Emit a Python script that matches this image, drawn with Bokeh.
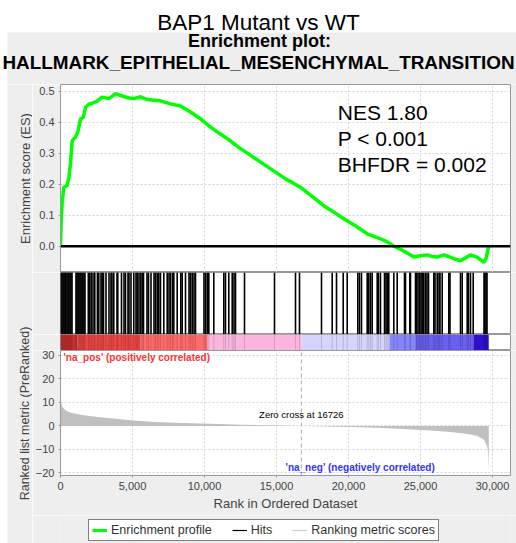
import math
from bokeh.plotting import figure
from bokeh.layouts import column, row
from bokeh.models import (Range1d, SingleIntervalTicker, NumeralTickFormatter,
                          PrintfTickFormatter, Legend, LegendItem)
from bokeh.core.properties import value
from bokeh.embed import file_html
from bokeh.resources import INLINE

FONT = "Liberation Sans"
PANEL = "#eeeeee"
OUTLINE = "#999999"
TXT = "#444444"
STRIP = 32  # width of the left strip that carries the axis titles

# ---------------- data ----------------
title_text = "BAP1 Mutant vs WT"
subtitle_1 = "Enrichment plot:"
subtitle_2 = "HALLMARK_EPITHELIAL_MESENCHYMAL_TRANSITION"
es_axis_label = "Enrichment score (ES)"
metric_axis_label = "Ranked list metric (PreRanked)"
rank_axis_label = "Rank in Ordered Dataset"
stats_lines = ["NES 1.80", "P < 0.001", "BHFDR = 0.002"]
stats_y = [0.431, 0.347, 0.265]
zero_cross = 16726
n_genes = 29740

es_rank = [0, 40, 115, 230, 460, 580, 694, 810, 1040, 1200, 1390, 1575, 1740, 1970,
           2250, 2550, 2890, 3355, 3600, 3820, 4100, 4400, 4750, 5090, 5560, 6020,
           6500, 6940, 7640, 8330, 9030, 9720, 10400, 11000, 11700, 12400, 13200,
           14000, 14800, 15600, 16667, 17500, 18300, 18980, 19700, 20500, 21300,
           22220, 22700, 23150, 23700, 24200, 24540, 25000, 25460, 25800, 26160,
           26620, 27000, 27310, 27780, 28100, 28470, 28940, 29400, 29550, 29740]
es_score = [0.0, 0.07, 0.14, 0.19, 0.196, 0.22, 0.267, 0.34, 0.352, 0.368, 0.41, 0.415,
            0.448, 0.458, 0.462, 0.468, 0.481, 0.476, 0.484, 0.492, 0.487, 0.483,
            0.478, 0.476, 0.482, 0.473, 0.471, 0.469, 0.459, 0.452, 0.433, 0.411,
            0.385, 0.365, 0.343, 0.318, 0.293, 0.268, 0.243, 0.218, 0.19, 0.16, 0.13,
            0.11, 0.088, 0.065, 0.04, 0.024, 0.014, 0.0, -0.012, -0.025, -0.035,
            -0.031, -0.028, -0.033, -0.035, -0.028, -0.034, -0.04, -0.047, -0.038,
            -0.028, -0.036, -0.052, -0.04, 0.0]

hit_ranks = [35, 104, 174, 243, 313, 368, 451, 521, 590, 660, 729, 799, 1076, 1146,
             1215, 1285, 1354, 1424, 1493, 1563, 1632, 1701, 1931, 2000, 2118, 2188,
             2326, 2382, 2563, 2660, 2813, 2896, 2986, 3160, 3368, 3507, 3576, 3701,
             3924, 3979, 4236, 4410, 4514, 4688, 4757, 4896, 5090, 5243, 5326, 5451,
             5569, 5674, 5764, 6007, 6111, 6285, 6493, 6597, 6715, 6826, 6944, 7174,
             7410, 7535, 7639, 7778, 7868, 8104, 8354, 8451, 8681, 8924, 9028, 9146,
             9271, 9375, 9965, 10069, 10188, 10299, 10646, 11340, 11458, 11688, 11924,
             12049, 12153, 12778, 14861, 16319, 16597, 18125, 18868, 19167, 19632,
             19910, 20646, 20764, 20903, 21299, 21410, 21528, 21646, 21993, 22083,
             22222, 22500, 22604, 22688, 22799, 23146, 23382, 23889, 23958, 24257,
             24306, 24653, 24722, 24826, 24931, 25035, 25118, 25229, 25347, 25451,
             25556, 25924, 26007, 26160, 26285, 26354, 26507, 26965, 27049, 27778,
             27896, 28243, 28333, 28472, 28660, 29410, 29479, 29549, 29618]

metric_rank = [0, 30, 80, 150, 250, 460, 800, 1390, 2000, 2780, 4000, 5070, 6500, 7850,
               9720, 11000, 12500, 14500, 16726, 18500, 20140, 22000, 23500, 24770,
               26000, 27080, 28000, 28940, 29400, 29630, 29700, 29740]
metric_value = [11.5, 10.5, 9.0, 8.0, 7.2, 6.2, 5.5, 4.8, 4.2, 3.7, 2.9, 2.3, 1.7, 1.3,
                1.0, 0.8, 0.55, 0.3, 0.0, -0.25, -0.5, -0.8, -1.2, -1.6, -2.1, -2.6,
                -3.2, -4.2, -5.9, -8.7, -12.0, -19.4]

band_start = [0, 1180, 5555, 10208, 16726, 22847, 24653, 28680]
band_end = [1180, 5555, 10208, 16726, 22847, 24653, 28680, 29740]
band_color = ["#c83030", "#ee4646", "#ff6c6c", "#fbb6de", "#d4d4fc", "#8585fc",
              "#6a60f0", "#3010cc"]

legend_labels = ["Enrichment profile", "Hits", "Ranking metric scores"]
legend_colors = ["#00ff00", "black", "#cccccc"]
legend_widths = [3, 1.2, 1.2]


def bare(width, height, xr, yr, bg):
    p = figure(width=width, height=height, x_range=xr, y_range=yr,
               x_axis_location=None, y_axis_location=None, toolbar_location=None,
               output_backend="svg", min_border=0)
    p.grid.visible = False
    p.outline_line_color = None
    p.background_fill_color = bg
    p.border_fill_color = bg
    return p


# ---------------- header (page pixel coordinates) ----------------
hdr = bare(516, 84, Range1d(0, 516), Range1d(84, 0), "white")
hdr.quad(left=7, right=516, top=32, bottom=84, fill_color=PANEL, line_color=None)
hdr.text(x=[258], y=[21.5], text=[title_text], text_font=value(FONT),
         text_font_size="22.5px", text_align="center", text_baseline="middle",
         text_color="black")
hdr.text(x=[259], y=[40.5], text=[subtitle_1], text_font=value(FONT),
         text_font_size="18px", text_font_style="bold", text_align="center",
         text_baseline="middle", text_color="black")
hdr.text(x=[258], y=[61.5], text=[subtitle_2], text_font=value(FONT),
         text_font_size="18.9px", text_font_style="bold", text_align="center",
         text_baseline="middle", text_color="black")

# ---------------- left strip with the axis titles ----------------
left = bare(STRIP, 459, Range1d(0, STRIP), Range1d(543, 84), "white")
left.quad(left=7, right=STRIP, top=84, bottom=543, fill_color=PANEL, line_color=None)
left.text(x=[24.5], y=[178], text=[es_axis_label], angle=math.pi / 2,
          text_font=value(FONT), text_font_size="13px", text_align="center",
          text_baseline="middle", text_color=TXT)
left.text(x=[24], y=[413], text=[metric_axis_label], angle=math.pi / 2,
          text_font=value(FONT), text_font_size="12.5px", text_align="center",
          text_baseline="middle", text_color=TXT)

xr = Range1d(0, 31250)


def base(frame_h, y_range, mb=0, **kw):
    p = figure(frame_width=450, frame_height=frame_h, x_range=xr, y_range=y_range,
               min_border_left=60 - STRIP, min_border_right=6, min_border_top=0,
               min_border_bottom=mb, toolbar_location=None,
               output_backend="svg", **kw)
    p.border_fill_color = PANEL
    p.background_fill_color = "white"
    p.outline_line_color = OUTLINE
    return p


def style_axis(ax):
    ax.axis_line_color = OUTLINE
    ax.major_tick_line_color = OUTLINE
    ax.major_tick_out = 2
    ax.major_tick_in = 0
    ax.minor_tick_out = 0
    ax.minor_tick_in = 0
    ax.minor_tick_line_color = None
    ax.major_label_text_font = FONT
    ax.major_label_text_font_size = "11px"
    ax.major_label_text_color = TXT
    ax.major_label_standoff = 4
    ax.axis_label_text_font = FONT
    ax.axis_label_text_font_size = "13px"
    ax.axis_label_text_font_style = "normal"
    ax.axis_label_text_color = TXT
    ax.axis_label_standoff = 3


# ---------------- ES plot ----------------
top = base(188, Range1d(-0.0848, 0.5216), x_axis_location=None)
top.yaxis.ticker = SingleIntervalTicker(interval=0.1)
top.yaxis.formatter = PrintfTickFormatter(format="%.1f")
style_axis(top.yaxis[0])
top.xgrid.ticker = SingleIntervalTicker(interval=5000)
top.grid.grid_line_color = "#d6d6d6"
top.grid.grid_line_dash = "2 2"
top.line(es_rank, es_score, line_color="#00ff00", line_width=3.5)
top.line([0, 31250], [0, 0], line_color="black", line_width=2.5)
for s, yv in zip(stats_lines, stats_y):
    top.text(x=[19257], y=[yv], text=[s], text_font=value(FONT), text_font_size="21px",
             text_baseline="middle", text_color="black")

# ---------------- hits ----------------
hits = base(62, Range1d(0, 1), x_axis_location=None, y_axis_location=None)
hits.grid.visible = False
hits.segment(x0=hit_ranks, y0=0, x1=hit_ranks, y1=1, line_color="black",
             line_width=1.6)

# ---------------- color bar ----------------
cbar = base(16, Range1d(0, 1), x_axis_location=None, y_axis_location=None)
cbar.grid.visible = False
cbar.quad(left=band_start, right=band_end, bottom=0, top=1, fill_color=band_color,
          line_color=None)
cbar.segment(x0=hit_ranks, y0=0, x1=hit_ranks, y1=1, line_color="black",
             line_width=1, line_alpha=0.15)

# ---------------- ranked metric ----------------
bot = base(125, Range1d(-21.1, 32.1), mb=40)
bot.yaxis.ticker = SingleIntervalTicker(interval=10)
bot.xaxis.ticker = SingleIntervalTicker(interval=5000)
bot.xaxis.formatter = NumeralTickFormatter(format="0,0")
bot.xaxis.axis_label = rank_axis_label
style_axis(bot.yaxis[0])
style_axis(bot.xaxis[0])
bot.grid.grid_line_color = "#d6d6d6"
bot.grid.grid_line_dash = "2 2"
bot.varea(x=metric_rank, y1=0, y2=metric_value, fill_color="#c0c0c0")
bot.line([zero_cross, zero_cross], [-21.1, 32.1], line_color="#aaaaaa",
         line_dash="4 3", line_width=1)
bot.text(x=[208], y=[29.2], text=["'na_pos' (positively correlated)"],
         text_font=value(FONT), text_font_size="10px", text_font_style="bold",
         text_color="#ff3333", text_baseline="middle")
bot.text(x=[15625], y=[-17.7], text=["'na_neg' (negatively correlated)"],
         text_font=value(FONT), text_font_size="10px", text_font_style="bold",
         text_color="#3333ff", text_baseline="middle")
bot.text(x=[zero_cross], y=[4.9], text=["Zero cross at %d" % zero_cross],
         text_font=value(FONT), text_font_size="9.5px", text_color="black",
         text_align="center", text_baseline="middle")

# ---------------- legend strip ----------------
leg = bare(516 - STRIP, 28, Range1d(0, 1), Range1d(0, 1), PANEL)
items = []
for lab, col, lw in zip(legend_labels, legend_colors, legend_widths):
    r = leg.line([-5], [-5], line_color=col, line_width=lw)
    items.append(LegendItem(label=lab, renderers=[r]))
legend = Legend(items=items, location=(28, 2), orientation="horizontal",
                label_text_font=FONT, label_text_font_size="12.5px",
                label_text_color="#333333", glyph_width=15, glyph_height=14,
                label_height=14, label_standoff=4, spacing=20, padding=3,
                margin=0, border_line_color="black", border_line_width=1,
                background_fill_color="white", background_fill_alpha=1.0)
leg.add_layout(legend, "center")

layout = column(hdr, row(left, column(top, hits, cbar, bot, leg)))

open("out.html", "w").write(file_html(layout, INLINE))
